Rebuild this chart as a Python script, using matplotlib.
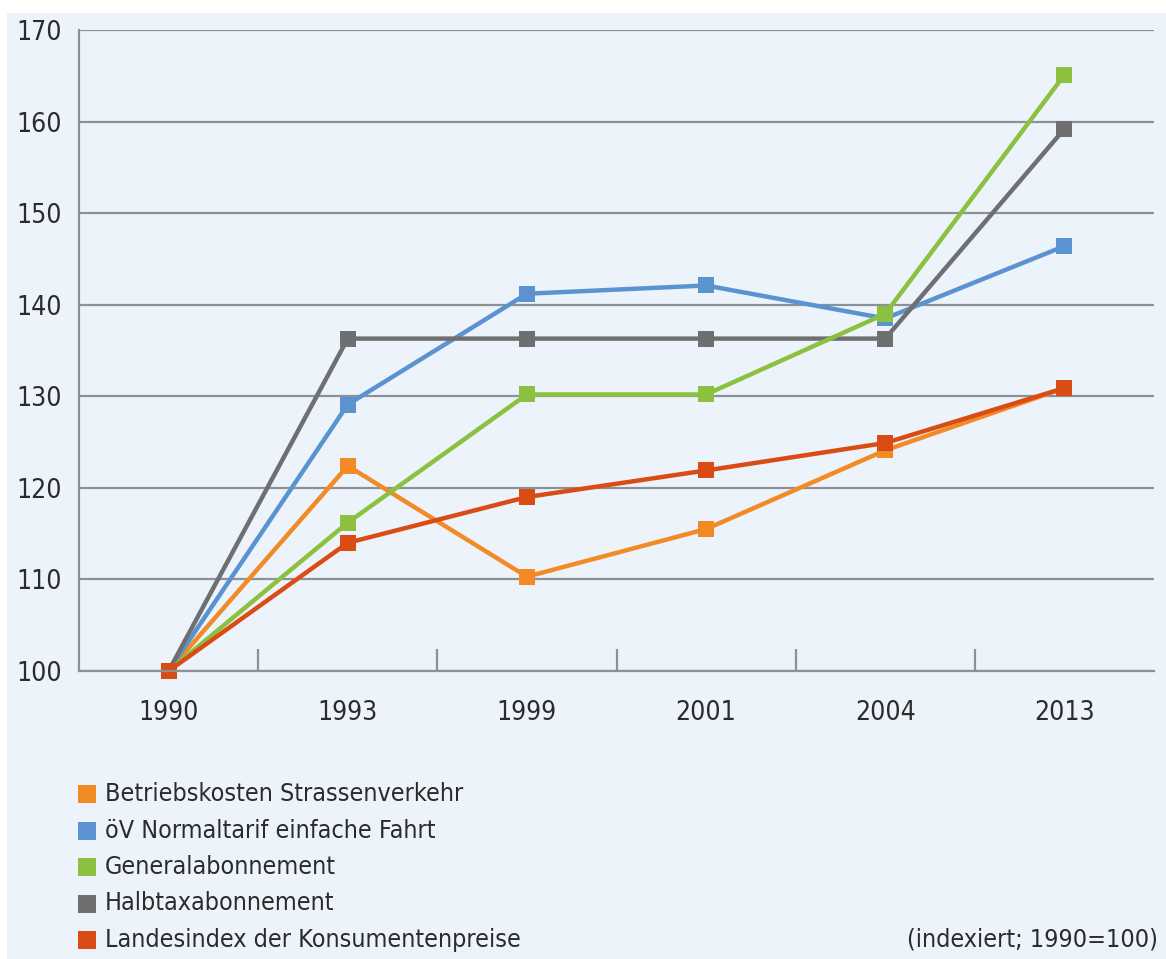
import matplotlib.pyplot as plt
from matplotlib.patches import Rectangle

plt.rcParams['font.family'] = ['DejaVu Sans']
plt.rcParams['font.stretch'] = 'condensed'

years = ['1990', '1993', '1999', '2001', '2004', '2013']

betriebskosten = [100, 122.4, 110.3, 115.5, 124.1, 130.9]
oev_normaltarif = [100, 129.1, 141.2, 142.1, 138.5, 146.4]
halbtax = [100, 136.3, 136.3, 136.3, 136.3, 159.2]
general = [100, 116.2, 130.2, 130.2, 139.0, 165.1]
landesindex = [100, 114.0, 119.0, 121.9, 124.9, 130.9]

labels = ['Betriebskosten Strassenverkehr', 'öV Normaltarif einfache Fahrt',
          'Generalabonnement', 'Halbtaxabonnement', 'Landesindex der Konsumentenpreise']
colors = ['#f28a26', '#5b93d0', '#8cc13f', '#6e6f71', '#d94c13']

bg = '#edf3fb'
grid_c = '#8d9197'
txt_c = '#2b2b2b'

fig = plt.figure(figsize=(11.66, 9.59), dpi=100, facecolor='white')
fig.patches.append(Rectangle((7 / 1166, 0), 1, 1 - 13 / 959, transform=fig.transFigure,
                             facecolor=bg, edgecolor='none', zorder=-10))
ax = fig.add_axes([79 / 1166, 1 - 671 / 959, (1154 - 79) / 1166, (671 - 30) / 959])
ax.set_facecolor(bg)

x = list(range(len(years)))
series = [(betriebskosten, colors[0]), (oev_normaltarif, colors[1]), (halbtax, colors[3]),
          (general, colors[2]), (landesindex, colors[4])]
for vals, c in series:
    ax.plot(x, vals, '-s', color=c, lw=3.2, ms=11.5, markeredgewidth=0, clip_on=False)

ax.set_xlim(-0.5, 5.5)
ax.set_ylim(100, 170)
ax.set_yticks(range(100, 171, 10))
ax.grid(axis='y', color=grid_c, lw=1.6)
ax.set_axisbelow(True)
for s in ['top', 'right']:
    ax.spines[s].set_visible(False)
for s in ['left', 'bottom']:
    ax.spines[s].set_color(grid_c)
    ax.spines[s].set_linewidth(1.6)

# ticks between categories, labels centred on them
ax.set_xticks([i + 0.5 for i in range(5)])
ax.set_xticklabels([])
ax.set_xticks(x, minor=True)
ax.set_xticklabels(years, minor=True)
ax.tick_params(axis='x', which='major', direction='in', length=16, width=1.6, color=grid_c)
ax.tick_params(axis='x', which='minor', length=0, pad=21, labelsize=19, labelcolor=txt_c)
ax.tick_params(axis='y', length=0, pad=12, labelsize=19, labelcolor=txt_c)

# legend
for i, (lab, c) in enumerate(zip(labels, colors)):
    yc = 1 - (794 + i * 36.5) / 959
    fig.patches.append(Rectangle((78 / 1166, yc - 9 / 959), 18 / 1166, 18 / 959,
                                 transform=fig.transFigure, facecolor=c, edgecolor='none'))
    fig.text(105 / 1166, yc, lab, fontsize=18, color=txt_c, va='center', ha='left')

fig.text(1158 / 1166, 1 - 940 / 959, '(indexiert; 1990=100)', fontsize=18,
         color=txt_c, va='center', ha='right')

fig.savefig('out.png', dpi=100, facecolor=fig.get_facecolor())
